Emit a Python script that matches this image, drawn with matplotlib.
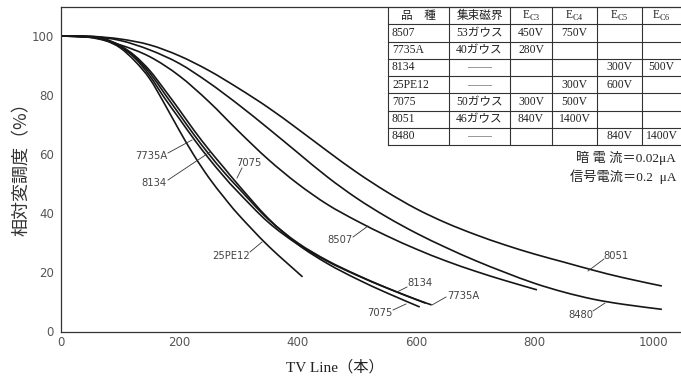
import matplotlib
matplotlib.use("Agg")
import matplotlib.pyplot as plt
from matplotlib.path import Path
from matplotlib.patches import PathPatch
from matplotlib.lines import Line2D

# ---------------- data ----------------
x_25PE12 = [0, 50, 75, 100, 125, 150, 175, 200, 225, 250, 275, 300, 350, 408]
y_25PE12 = [100, 99.6, 98.5, 96, 91.5, 85.5, 77, 68, 59.5, 52, 45.5, 39.5, 29, 18.5]

x_7735A = [0, 50, 75, 100, 125, 150, 175, 200, 225, 250, 275, 300, 350, 400, 450, 500, 550, 600, 626]
y_7735A = [100, 99.7, 98.8, 96.5, 92.5, 86.5, 79, 72, 65, 58.5, 52.5, 47, 37, 29.5, 23.75, 19, 14.75, 10.85, 9]

x_8134 = [0, 50, 75, 100, 125, 150, 175, 200, 225, 250, 275, 300, 350, 400, 450, 500, 550, 600, 616]
y_8134 = [100, 99.7, 98.8, 96.5, 92.8, 87.5, 80.5, 73.5, 66.5, 60, 54, 48.5, 38, 30, 24, 19.15, 14.8, 10.8, 9.6]

x_7075 = [0, 50, 75, 100, 125, 150, 175, 200, 225, 250, 275, 300, 350, 400, 450, 500, 550, 606]
y_7075 = [100, 99.7, 98.9, 96.8, 93.3, 88.3, 81.8, 75, 68, 61.5, 55.5, 49.5, 38.3, 29.5, 23, 17.75, 13.1, 8.3]

x_8507 = [0, 50, 100, 150, 200, 250, 300, 350, 400, 450, 500, 550, 600, 650, 700, 750, 804]
y_8507 = [100, 99.5, 97, 93, 86.5, 77.75, 67.75, 58.25, 50, 43, 37.4, 32.4, 27.9, 23.9, 20.4, 17.25, 14.1]

x_8480 = [0, 50, 100, 150, 200, 250, 300, 350, 400, 450, 500, 550, 600, 650, 700, 750, 800,
          850, 900, 950, 1015]
y_8480 = [100, 99.9, 98.5, 95.3, 90.7, 84.2, 76.75, 68.75, 60.5, 52.3, 45.05, 38.8, 33.3, 28.45,
          24, 20, 16.3, 13.3, 10.9, 9.2, 7.5]

x_8051 = [0, 50, 100, 150, 200, 250, 300, 350, 400, 450, 500, 550, 600, 650, 700, 750, 800,
          850, 900, 950, 1015]
y_8051 = [100, 99.9, 99, 97, 93.3, 88.3, 82.3, 75.8, 68.55, 61.05, 53.8, 47.3, 41.55, 36.8, 32.8,
          29.3, 26.2, 23.45, 20.7, 18.2, 15.4]

x_ticks = [0, 200, 400, 600, 800, 1000]
y_ticks = [0, 20, 40, 60, 80, 100]

table_header = ["品　種", "集束磁界", r"E$_{\mathregular{C3}}$", r"E$_{\mathregular{C4}}$",
                r"E$_{\mathregular{C5}}$", r"E$_{\mathregular{C6}}$"]
table_rows = [
    ["8507", "53ガウス", "450V", "750V", "", ""],
    ["7735A", "40ガウス", "280V", "", "", ""],
    ["8134", "——", "", "", "300V", "500V"],
    ["25PE12", "——", "", "300V", "600V", ""],
    ["7075", "50ガウス", "300V", "500V", "", ""],
    ["8051", "46ガウス", "840V", "1400V", "", ""],
    ["8480", "——", "", "", "840V", "1400V"],
]
note_lines = ["暗 電 流＝0.02μA", "信号電流＝0.2  μA"]

# ---------------- figure ----------------
W, H = 681, 382
fig = plt.figure(figsize=(W / 100, H / 100), dpi=100)
fig.patch.set_facecolor("white")

L, R, B, T = 61, 681, 331.5, 6.5
ax = fig.add_axes([L / W, (H - B) / H, (R - L) / W, (B - T) / H])
ax.set_xlim(0, 1000 * (R - L) / (653 - 61))
ax.set_ylim(0, 110)
ax.spines["right"].set_visible(False)
for s in ["left", "bottom", "top"]:
    ax.spines[s].set_linewidth(0.9)
    ax.spines[s].set_color("#333333")

ax.set_xticks(x_ticks)
ax.set_yticks(y_ticks)
ax.tick_params(axis="both", length=0, labelsize=8.5, labelcolor="#555555")
ax.tick_params(axis="x", pad=3)
ax.tick_params(axis="y", pad=5)


def smooth_path(xs, ys):
    pts = list(zip(xs, ys))
    n = len(pts)
    verts = [pts[0]]
    codes = [Path.MOVETO]
    for i in range(n - 1):
        p0 = pts[i - 1] if i > 0 else pts[i]
        p1 = pts[i]
        p2 = pts[i + 1]
        p3 = pts[i + 2] if i + 2 < n else pts[i + 1]
        c1 = (p1[0] + (p2[0] - p0[0]) / 6.0, p1[1] + (p2[1] - p0[1]) / 6.0)
        c2 = (p2[0] - (p3[0] - p1[0]) / 6.0, p2[1] - (p3[1] - p1[1]) / 6.0)
        verts += [c1, c2, p2]
        codes += [Path.CURVE4] * 3
    return Path(verts, codes)


curves = [(x_25PE12, y_25PE12), (x_7735A, y_7735A), (x_8134, y_8134), (x_7075, y_7075),
          (x_8507, y_8507), (x_8480, y_8480), (x_8051, y_8051)]
for xs, ys in curves:
    ax.add_patch(PathPatch(smooth_path(xs, ys), fill=False, edgecolor="#161616",
                           linewidth=1.2, capstyle="butt"))

# ---------------- curve labels with leader lines (pixel positions) ----------------
def px(xp, yp):
    return (xp / W, 1 - yp / H)

lab_font = dict(fontsize=7.2, color="#444444", family="DejaVu Sans")
labels = [
    ("7735A", (167, 156), "right", (168, 153), (192, 140)),
    ("8134", (167, 183), "right", (168, 180), (210, 152)),
    ("7075", (236, 163), "left", (242, 168), (237, 178)),
    ("25PE12", (250, 256), "right", (250, 252), (262, 242)),
    ("8507", (353, 240), "right", (353, 237), (368, 226)),
    ("8134", (407, 283), "left", (407, 287), (397, 292)),
    ("7735A", (447, 296), "left", (446, 297), (432, 305)),
    ("7075", (393, 313), "right", (393, 310), (406, 304)),
    ("8051", (603, 256), "left", (604, 259), (588, 271)),
    ("8480", (593, 315), "right", (593, 311), (605, 303)),
]
for txt, tp, ha, a, b in labels:
    fig.text(*px(*tp), txt, ha=ha, va="center", **lab_font)
    fig.add_artist(Line2D([a[0] / W, b[0] / W], [1 - a[1] / H, 1 - b[1] / H],
                          color="#333333", linewidth=0.6))

# ---------------- axis titles ----------------
fig.text(*px(22, 165), "相対変調度（%）", rotation=90, ha="center", va="center",
         fontsize=13, color="#333333", family=["Noto Sans CJK JP", "DejaVu Sans"])
fig.text(*px(335, 367), "TV Line（本）", ha="center", va="center", fontsize=11,
         color="#222222", family=["Liberation Serif", "Noto Sans CJK JP"])

# ---------------- table ----------------
col_edges = [388, 449, 510, 552, 597, 642, 681]
row_top, row_bot = 7, 145
nrows = len(table_rows) + 1
row_edges = [row_top + (row_bot - row_top) * i / nrows for i in range(nrows + 1)]
line_kw = dict(color="#333333", linewidth=0.8)
for xe in col_edges[:-1]:
    fig.add_artist(Line2D([xe / W] * 2, [1 - row_top / H, 1 - row_bot / H], **line_kw))
for ye in row_edges[1:]:
    fig.add_artist(Line2D([col_edges[0] / W, col_edges[-1] / W], [1 - ye / H] * 2, **line_kw))

tfont = dict(fontsize=8.4, color="#222222", family=["Liberation Serif", "Noto Sans CJK JP"])
all_rows = [table_header] + table_rows
for r, row in enumerate(all_rows):
    yc = (row_edges[r] + row_edges[r + 1]) / 2
    for c, cell in enumerate(row):
        if not cell:
            continue
        if cell == "——":
            xc = (col_edges[c] + col_edges[c + 1]) / 2
            fig.add_artist(Line2D([(xc - 12) / W, (xc + 12) / W], [1 - yc / H] * 2,
                                  color="#888888", linewidth=0.6))
            continue
        if c == 0 and r > 0:
            fig.text(*px(col_edges[0] + 4, yc), cell, ha="left", va="center", **tfont)
        else:
            xc = (col_edges[c] + col_edges[c + 1]) / 2
            fig.text(*px(xc, yc), cell, ha="center", va="center", **tfont)

# ---------------- notes ----------------
for i, line in enumerate(note_lines):
    fig.text(*px(676, 158 + 19 * i), line, ha="right", va="center", fontsize=9.5,
             color="#222222", family=["Liberation Serif", "Noto Sans CJK JP"])

fig.savefig("out.png", dpi=100, facecolor="white")
